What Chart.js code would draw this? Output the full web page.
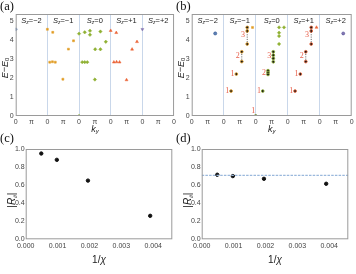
<!DOCTYPE html>
<html>
<head>
<meta charset="utf-8">
<script src="https://cdn.jsdelivr.net/npm/chart.js@4.4.1/dist/chart.umd.min.js"></script>
<style>
  body { margin: 0; background: #fff; width: 356px; height: 274px; position: relative; overflow: hidden; }
  canvas { position: absolute; }
  .tag { position: absolute; font-family: "Liberation Serif", serif; font-size: 12.5px; color: #111; line-height: 1; }
</style>
</head>
<body>
<canvas id="ca" width="178" height="135" style="left:0;top:0"></canvas>
<canvas id="cb" width="180" height="135" style="left:176px;top:0"></canvas>
<canvas id="cc" width="178" height="139" style="left:0;top:135px"></canvas>
<canvas id="cd" width="180" height="139" style="left:176px;top:135px"></canvas>
<div class="tag" style="left:0;top:0">(a)</div>
<div class="tag" style="left:176px;top:0">(b)</div>
<div class="tag" style="left:0;top:132px">(c)</div>
<div class="tag" style="left:176px;top:132px">(d)</div>
<script>
// k_y axis: five S_z sectors, each 0..2pi (in units of pi)
const sectorNames = ['−2', '−1', '0', '+1', '+2'];
const kTickValues = [0, 1, 2, 3, 4, 5, 6, 7, 8, 9, 10];
const kTickLabels = ['0', 'π', '0', 'π', '0', 'π', '0', 'π', '0', 'π', '0'];
const eTickValues = [0, 1, 2, 3, 4, 5];

// panel (a): [k (units of pi, inside sector), E - E0]
const aSzM2 = [[0, 4.59]];
const aSzM1 = [[0, 4.59], [0.34, 4.43], [1.65, 3.98], [1.33, 3.54], [0.15, 2.85], [0.32, 2.87], [0.5, 2.85], [0.98, 1.95]];
const aSz0 = [[0, 0], [0, 4.36], [0.36, 4.43], [0.69, 4.51], [0.69, 4.3], [1.35, 4.47], [1.69, 3.93], [1.02, 3.53], [1.35, 3.53], [0.2, 2.85], [0.36, 2.85], [0.52, 2.85], [1.0, 1.93]];
const aSzP1 = [[0, 4.52], [0.35, 4.41], [1.66, 3.93], [1.35, 3.53], [0.2, 2.85], [0.37, 2.86], [0.56, 2.85], [1.0, 1.91]];
const aSzP2 = [[0, 4.59]];

// panel (b): marked groups (joined by dotted lines) and unmarked states
const bSzM2 = [[1.47, 4.37]];
const bGroupsM1 = [[[0.46, 1.32]], [[0.79, 2.22]], [[1.13, 3.4], [1.13, 2.88]], [[1.47, 4.69], [1.47, 4.5], [1.47, 3.81]]];
const bExtraM1 = [[1.8, 4.69]];
const bGroups0 = [[[0, 0]], [[0.44, 1.32]], [[0.77, 2.4], [0.77, 2.3], [0.77, 2.2]], [[1.1, 3.4], [1.1, 3.22], [1.1, 3.05], [1.1, 2.87]]];
const bExtra0 = [[1.46, 4.69], [1.46, 4.41], [1.46, 4.23], [1.46, 3.81], [1.77, 4.69]];
const bGroupsP1 = [[[0.46, 1.32]], [[0.79, 2.22]], [[1.13, 3.4], [1.13, 2.88]], [[1.47, 4.69], [1.47, 4.5], [1.47, 3.81]]];
const bExtraP1 = [[1.8, 4.69]];
const bSzP2 = [[1.47, 4.37]];
// group labels: [k, E, text]
const bLabelsM1 = [[0.22, 1.32, '1'], [0.55, 2.25, '1'], [0.88, 3.2, '2'], [1.2, 4.3, '3']];
const bLabels0 = [[-0.15, 0.25, '1'], [0.2, 1.32, '1'], [0.52, 2.3, '2'], [0.85, 3.2, '3']];
const bLabelsP1 = [[0.22, 1.32, '1'], [0.55, 2.25, '1'], [0.88, 3.2, '2'], [1.2, 4.3, '3']];

// panels (c), (d)
const invChi = [1 / 2048, 1 / 1024, 1 / 512, 1 / 256];
const rC = [0.95, 0.88, 0.65, 0.26];
const rD = [0.715, 0.70, 0.67, 0.615];
const rRef = 0.707;
const chiTicks = [0, 0.001, 0.002, 0.003, 0.004];
const rTicks = [0, 0.2, 0.4, 0.6, 0.8, 1.0];

const COL = { blue: '#5e81b5', orange: '#e19c24', green: '#8fb032', red: '#eb6235', purple: '#8778b3' };
const SANS = 'Liberation Sans';

function shift(pts, s) {
  return pts.map(p => ({ x: p[0] + 2 * s, y: p[1] }));
}

function rich(ctx, parts, x, y, rot) {
  ctx.save();
  ctx.translate(x, y);
  if (rot) ctx.rotate(-Math.PI / 2);
  ctx.textBaseline = 'middle';
  ctx.textAlign = 'left';
  let w = 0;
  parts.forEach(p => { ctx.font = p[1]; w += ctx.measureText(p[0]).width; });
  let cx = -w / 2;
  parts.forEach(p => {
    ctx.font = p[1];
    ctx.fillText(p[0], cx, p[2] || 0);
    cx += ctx.measureText(p[0]).width;
  });
  ctx.restore();
}

const frame = {
  id: 'frame',
  afterDraw(chart) {
    const { ctx, chartArea: a } = chart;
    ctx.save();
    ctx.strokeStyle = '#9a9a9a';
    ctx.lineWidth = 1;
    ctx.strokeRect(a.left + 0.5, a.top + 0.5, a.width - 1, a.height - 1);
    ctx.restore();
  }
};

const kDecor = {
  id: 'kDecor',
  afterDraw(chart) {
    const { ctx, chartArea: a, scales: { x } } = chart;
    ctx.save();
    ctx.fillStyle = '#222';
    sectorNames.forEach((n, i) => {
      rich(ctx, [['S', 'italic 7.5px ' + SANS], ['z', 'italic 5px ' + SANS, 2], ['=' + n, '7.5px ' + SANS]],
        x.getPixelForValue(2 * i + 1), a.top + 7);
    });
    rich(ctx, [['k', 'italic 9px ' + SANS], ['y', 'italic 6px ' + SANS, 2.5]], (a.left + a.right) / 2, a.bottom + 13);
    rich(ctx, [['E', 'italic 9px ' + SANS], ['−', '9px ' + SANS], ['E', 'italic 9px ' + SANS], ['0', '6px ' + SANS, 2.5]],
      5, (a.top + a.bottom) / 2 + 3, true);
    ctx.restore();
  }
};

function kScales() {
  return {
    x: {
      type: 'linear', min: 0, max: 10,
      afterBuildTicks: s => { s.ticks = kTickValues.map(v => ({ value: v })); },
      ticks: { autoSkip: false, maxRotation: 0, padding: 2, color: '#444', font: { family: SANS, size: 7 },
        callback: (v, i) => kTickLabels[i] },
      grid: { drawTicks: false, lineWidth: 1,
        color: c => (c.tick && c.tick.value % 2 === 0 && c.tick.value > 0 && c.tick.value < 10) ? '#c9d7ea' : 'rgba(0,0,0,0)' },
      border: { display: false },
      afterFit: s => { s.height = 19; }
    },
    y: {
      min: 0, max: 5.4,
      afterBuildTicks: s => { s.ticks = eTickValues.map(v => ({ value: v })); },
      ticks: { padding: 2, color: '#444', font: { family: SANS, size: 7 } },
      grid: { display: false, drawTicks: false },
      border: { display: false },
      afterFit: s => { s.width = 15.7; }
    }
  };
}

function pts(data, color, style, extra) {
  return Object.assign({ data: data, pointStyle: style, pointRadius: 1.4, backgroundColor: color, borderColor: color,
    pointBorderWidth: 0.5, showLine: false }, extra || {});
}

function baseOptions(scales, padRight) {
  return {
    responsive: false, animation: false,
    layout: { autoPadding: false, padding: { top: 14, right: padRight, left: 0, bottom: 0 } },
    plugins: { legend: { display: false }, tooltip: { enabled: false } },
    scales: scales
  };
}

// (a)
new Chart(document.getElementById('ca'), {
  type: 'scatter',
  data: {
    datasets: [
      pts(shift(aSzM2, 0), COL.blue, 'circle'),
      pts(shift(aSzM1, 1), COL.orange, 'rect'),
      pts(shift(aSz0, 2), COL.green, 'rectRot', { pointRadius: 1.7 }),
      pts(shift(aSzP1, 3), COL.red, 'triangle', { pointRadius: 1.7 }),
      pts(shift(aSzP2, 4), COL.purple, 'triangle', { pointRadius: 1.7, pointRotation: 180 })
    ]
  },
  options: baseOptions(kScales(), 2.3),
  plugins: [kDecor, frame]
});

// (b)
function groupSets(groups, s, color) {
  return groups.map(g => ({
    data: shift(g, s), showLine: true, borderColor: '#333', borderWidth: 0.8, borderDash: [1, 1.3],
    pointRadius: 1.4, pointBackgroundColor: '#1a1a1a', pointBorderColor: color, pointBorderWidth: 0.8
  }));
}
const bLabelSets = [[bLabelsM1, 1], [bLabels0, 2], [bLabelsP1, 3]];
const bLabelsPlugin = {
  id: 'bLabels',
  afterDatasetsDraw(chart) {
    const { ctx, scales: { x, y } } = chart;
    ctx.save();
    ctx.fillStyle = '#e8604c';
    ctx.font = '8px "Liberation Serif"';
    ctx.textAlign = 'center';
    ctx.textBaseline = 'middle';
    bLabelSets.forEach(([labels, s]) => {
      labels.forEach(l => ctx.fillText(l[2], x.getPixelForValue(l[0] + 2 * s), y.getPixelForValue(l[1])));
    });
    ctx.restore();
  }
};
new Chart(document.getElementById('cb'), {
  type: 'scatter',
  data: {
    datasets: [
      pts(shift(bSzM2, 0), COL.blue, 'circle', { pointRadius: 1.6, borderColor: '#2b4f8a' }),
      ...groupSets(bGroupsM1, 1, COL.orange),
      pts(shift(bExtraM1, 1), COL.orange, 'rect'),
      ...groupSets(bGroups0, 2, COL.green),
      pts(shift(bExtra0, 2), COL.green, 'rectRot', { pointRadius: 1.7 }),
      ...groupSets(bGroupsP1, 3, COL.red),
      pts(shift(bExtraP1, 3), COL.red, 'triangle', { pointRadius: 1.7 }),
      pts(shift(bSzP2, 4), COL.purple, 'circle', { pointRadius: 1.5, borderColor: '#3b3b8a' })
    ]
  },
  options: baseOptions(kScales(), 4.3),
  plugins: [kDecor, bLabelsPlugin, frame]
});

// (c), (d)
const chiMax = 0.0046;
function rDecor(id) {
  return {
    id: id,
    afterDraw(chart) {
      const { ctx, chartArea: a } = chart;
      ctx.save();
      ctx.fillStyle = '#222';
      rich(ctx, [['1/', '10px ' + SANS], ['χ', 'italic 10px ' + SANS]], (a.left + a.right) / 2, a.bottom + 21);
      rich(ctx, [['|', '10px ' + SANS], ['R', 'italic 10px ' + SANS], ['ii', 'italic 6px ' + SANS, 3], ['|', '10px ' + SANS]],
        a.left - 13, (a.top + a.bottom) / 2 + 6, true);
      ctx.restore();
    }
  };
}
function rScales() {
  return {
    x: {
      type: 'linear', min: 0, max: chiMax,
      afterBuildTicks: s => { s.ticks = chiTicks.map(v => ({ value: v })); },
      ticks: { padding: 2.5, maxRotation: 0, color: '#444', font: { family: SANS, size: 7 }, callback: v => v.toFixed(3) },
      grid: { display: false, drawTicks: false },
      border: { display: false },
      afterFit: s => { s.height = 34.7; }
    },
    y: {
      min: 0, max: 1,
      afterBuildTicks: s => { s.ticks = rTicks.map(v => ({ value: v })); },
      ticks: { padding: 1, color: '#444', font: { family: SANS, size: 7 }, callback: v => v.toFixed(1) },
      grid: { display: false, drawTicks: false },
      border: { display: false },
      afterFit: s => { s.width = 25.7; }
    }
  };
}
function rPoints(vals) {
  return { data: invChi.map((v, i) => ({ x: v, y: vals[i] })), pointRadius: 1.7, backgroundColor: '#111', borderColor: '#111', showLine: false };
}
new Chart(document.getElementById('cc'), {
  type: 'scatter',
  data: { datasets: [rPoints(rC)] },
  options: baseOptions(rScales(), 5.7),
  plugins: [rDecor('rc'), frame]
});
new Chart(document.getElementById('cd'), {
  type: 'scatter',
  data: {
    datasets: [
      { data: [{ x: 0, y: rRef }, { x: chiMax, y: rRef }], showLine: true, pointRadius: 0,
        borderColor: '#9ab8dc', borderWidth: 1.3, borderDash: [2.5, 1.2] },
      rPoints(rD)
    ]
  },
  options: baseOptions(rScales(), 7.7),
  plugins: [rDecor('rd'), frame]
});
</script>
</body>
</html>
